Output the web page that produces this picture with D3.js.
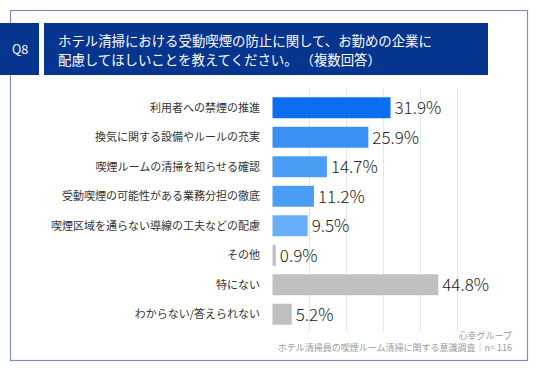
<!DOCTYPE html>
<html><head><meta charset="utf-8">
<script src="https://cdn.jsdelivr.net/npm/d3@7"></script>
<style>html,body{margin:0;padding:0;background:#fff;}svg{display:block;}</style>
</head><body>
<script>
const categories = ["利用者への禁煙の推進","換気に関する設備やルールの充実","喫煙ルームの清掃を知らせる確認","受動喫煙の可能性がある業務分担の徹底","喫煙区域を通らない導線の工夫などの配慮","その他","特にない","わからない/答えられない"];
const values = [31.9,25.9,14.7,11.2,9.5,0.9,44.8,5.2];
const barColors = ["#0a6ff0","#3a8ff2","#4a9df5","#4a9df5","#68aef8","#c0c0c0","#c0c0c0","#c0c0c0"];
const gridTicks = [10,20,30,40,50];
const titleLines = ["ホテル清掃における受動喫煙の防止に関して、お勤めの企業に","配慮してほしいことを教えてください。 （複数回答）"];
const qLabel = "Q8";
const sourceLines = ["心幸グループ","ホテル清掃員の喫煙ルーム清掃に関する意識調査｜n= 116"];

const W=536,H=371;
const font = "'Noto Sans CJK JP','Noto Sans',sans-serif";
const svg = d3.select("body").append("svg").attr("width",W).attr("height",H);

svg.append("rect").attr("x",10.5).attr("y",10.5).attr("width",517).attr("height",350)
  .attr("fill","#fff").attr("stroke","#7d8fb5").attr("stroke-width",1.2);

svg.append("rect").attr("x",0).attr("y",23).attr("width",39).attr("height",52).attr("fill","#06358f");
svg.append("rect").attr("x",44).attr("y",23).attr("width",444).attr("height",52).attr("fill","#06358f");
svg.append("text").attr("x",20).attr("y",54).attr("text-anchor","middle").attr("fill","#fff")
  .attr("font-family",font).attr("font-size",12.5).text(qLabel);
svg.selectAll("text.title").data(titleLines).enter().append("text").attr("class","title")
  .attr("x",58).attr("y",(d,i)=>46+i*18.5).attr("fill","#fff")
  .attr("font-family",font).attr("font-size",13.4).text(d=>d);

const x = d3.scaleLinear().domain([0,50]).range([272.5,457.5]);
const y = d3.scaleBand().domain(categories).range([93,329]).paddingInner(0.29).paddingOuter(0.145);

svg.append("g").selectAll("line").data(gridTicks).enter().append("line")
  .attr("x1",d=>x(d)).attr("x2",d=>x(d)).attr("y1",88).attr("y2",331)
  .attr("stroke","#e6e6e6").attr("stroke-width",1);

svg.append("g").selectAll("rect").data(values).enter().append("rect")
  .attr("x",x(0)).attr("y",(d,i)=>y(categories[i])).attr("width",d=>x(d)-x(0))
  .attr("height",y.bandwidth()).attr("fill",(d,i)=>barColors[i]);

svg.append("g").selectAll("text").data(values).enter().append("text")
  .attr("x",d=>x(d)+4).attr("y",(d,i)=>y(categories[i])+y.bandwidth()/2+6.3)
  .attr("fill","#222").attr("font-family","'Noto Sans CJK JP','Noto Sans',sans-serif").attr("font-weight",300).attr("font-size",17)
  .text(d=>d.toFixed(1)+"%");

svg.append("g").selectAll("text").data(categories).enter().append("text")
  .attr("x",260).attr("y",d=>y(d)+y.bandwidth()/2+4).attr("text-anchor","end")
  .attr("fill","#333").attr("font-family",font).attr("font-size",11).text(d=>d);

svg.selectAll("text.src").data(sourceLines).enter().append("text").attr("class","src")
  .attr("x",512).attr("y",(d,i)=>339+i*12).attr("text-anchor","end")
  .attr("fill","#9a9a9a").attr("font-family",font).attr("font-size",9).text(d=>d);
</script>
</body></html>
